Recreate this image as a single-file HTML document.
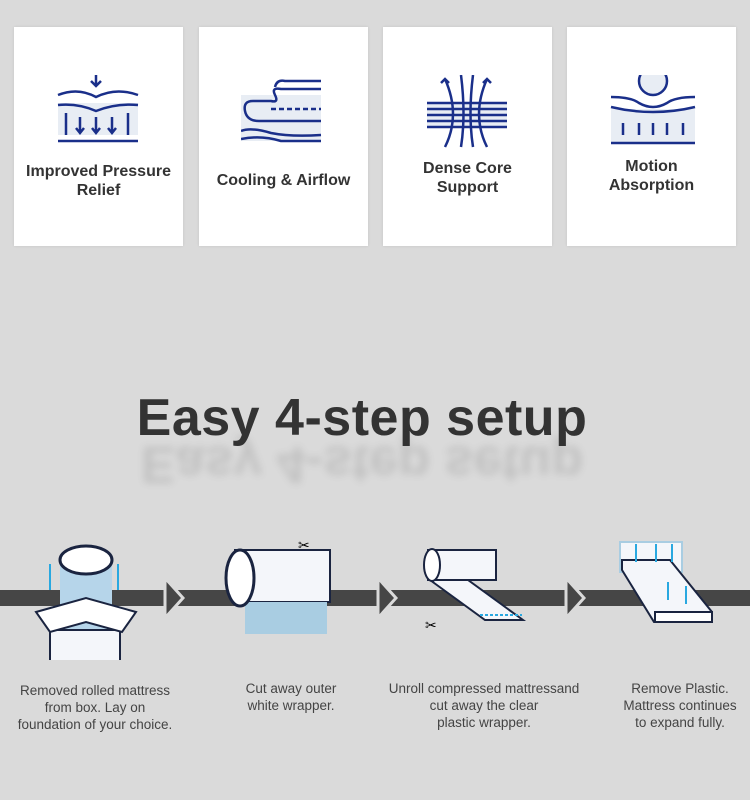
<!DOCTYPE html>
<html><head><style>
body{margin:0;width:750px;height:800px;background:#dadada;font-family:"Liberation Sans",sans-serif;position:relative;overflow:hidden}
.card{position:absolute;top:27px;width:169px;height:219px;background:#fff;box-shadow:0 0 3px rgba(0,0,0,.1)}
.card svg{position:absolute;left:42px;top:48px}
.card .t{position:absolute;left:0;right:0;text-align:center;font-weight:bold;font-size:16px;color:#333;line-height:19px}
.step{position:absolute;top:682px;text-align:center;font-size:13.5px;color:#444;line-height:17px}
</style></head><body>
<div class="card" style="left:14px"><svg width="86" height="70" viewBox="0 0 86 70" fill="none" stroke="#1a2f8a" stroke-width="2.5"><rect x="2" y="28" width="80" height="32" fill="#e8edf4" stroke="none"/><path d="M2 20 Q22 12 40 22 Q60 12 82 20"/><path d="M2 30 Q22 28 40 36 Q60 28 82 30"/><path d="M40 0v10M35 6l5 5 5-5"/><path d="M10 38v22M72 38v22M24 42v16M40 42v16M56 42v16M20 53l4 5 4-5M36 53l4 5 4-5M52 53l4 5 4-5"/><path d="M2 66h80"/></svg><div class="t" style="top:135px">Improved Pressure<br>Relief</div></div>
<div class="card" style="left:199px"><svg width="86" height="70" viewBox="0 0 86 70" fill="none" stroke="#1a2f8a" stroke-width="2.5"><rect x="0" y="20" width="80" height="46" fill="#e8edf4" stroke="none"/><path d="M80 14H40Q30 12 34 20Q38 28 30 26H12Q2 26 4 36Q6 46 18 46H80"/><path d="M30 34H80" stroke-dasharray="5 3"/><path d="M80 6H44Q36 4 34 12"/><path d="M0 56Q10 52 30 58Q50 62 80 60M0 64Q20 60 40 66H80"/></svg><div class="t" style="top:144px">Cooling &amp; Airflow</div></div>
<div class="card" style="left:383px"><svg width="86" height="76" viewBox="0 0 86 76" fill="none" stroke="#1a2f8a" stroke-width="2.5"><rect x="2" y="28" width="80" height="24" fill="#e8edf4" stroke="none"/><path d="M2 28h80M2 34h80M2 46h80M2 52h80M2 40h80" /><path d="M20 4Q36 40 20 72M62 4Q46 40 62 72M36 0Q41 40 36 72M48 0Q43 40 48 72M16 8l4-4 4 4M58 8l4-4 4 4"/></svg><div class="t" style="top:132px">Dense Core<br>Support</div></div>
<div class="card" style="left:567px"><svg width="90" height="80" viewBox="0 0 90 80" fill="none" stroke="#1a2f8a" stroke-width="2.5"><rect x="2" y="34" width="84" height="34" fill="#e8edf4" stroke="none"/><circle cx="44" cy="6" r="14" fill="#e8edf4"/><path d="M2 22Q22 22 30 28Q44 36 58 28Q66 22 86 22"/><path d="M2 32Q44 42 86 32"/><path d="M14 48v12M30 48v12M44 48v12M58 48v12M74 48v12M2 68h84"/></svg><div class="t" style="top:130px">Motion<br>Absorption</div></div>

<div style="position:absolute;left:0;right:0;top:388px;text-align:center;font-size:52px;font-weight:bold;color:#333;letter-spacing:.5px;padding-right:26px">Easy 4-step setup</div>
<div style="position:absolute;left:0;right:0;top:436px;text-align:center;font-size:52px;font-weight:bold;color:#333;opacity:.14;filter:blur(4px);transform:scaleY(-1);padding-right:26px;height:58px;overflow:hidden">Easy 4-step setup</div>

<svg style="position:absolute;left:0;top:520px" width="750" height="140">
<path d="M0 70h750v16H0z" fill="#464646"/>
<g fill="#464646" stroke="#dadada" stroke-width="3"><path d="M165 58l18 20-18 20z"/><path d="M378 58l18 20-18 20z"/><path d="M566 58l18 20-18 20z"/></g>
<rect x="60" y="40" width="52" height="70" fill="#b6d5ea"/><ellipse cx="86" cy="40" rx="26" ry="14" fill="#fff" stroke="#1a2440" stroke-width="3"/><path d="M50 110h70v40H50z" fill="#f4f6fa" stroke="#1a2440" stroke-width="2"/><path d="M36 92l50-14 50 14-14 20-36-10-36 10z" fill="#fff" stroke="#1a2440" stroke-width="2"/><path d="M50 70V44M118 70V44" stroke="#29a8e0" stroke-width="2"/>
<rect x="235" y="30" width="95" height="52" fill="#f4f6fa" stroke="#1a2440" stroke-width="2"/><rect x="245" y="82" width="82" height="32" fill="#a9cde2"/><ellipse cx="240" cy="58" rx="14" ry="28" fill="#fff" stroke="#1a2440" stroke-width="3"/><text x="298" y="30" font-size="14">✂</text>
<path d="M430 60l55 40h38l-55-40z" fill="#f4f6fa" stroke="#1a2440" stroke-width="2"/><rect x="428" y="30" width="68" height="30" fill="#f4f6fa" stroke="#1a2440" stroke-width="2"/><ellipse cx="432" cy="45" rx="8" ry="16" fill="#fff" stroke="#1a2440" stroke-width="2"/><path d="M480 95h42" stroke="#29a8e0" stroke-width="2" stroke-dasharray="3 2"/><text x="425" y="110" font-size="14">✂</text>
<rect x="620" y="22" width="62" height="30" fill="#f4f6fa" stroke="#a9cde2" stroke-width="2"/><path d="M622 40h48l42 52v10h-58l-32-52z" fill="#f4f6fa" stroke="#1a2440" stroke-width="2"/><path d="M655 92h57v10h-57z" fill="#fff" stroke="#1a2440" stroke-width="2"/><path d="M636 42V24M656 42V24M672 42V24M686 84V66M668 80V62" stroke="#29a8e0" stroke-width="2"/>
</svg>

<div class="step" style="left:0;width:190px;top:682px">Removed rolled mattress<br>from box. Lay on<br>foundation of your choice.</div>
<div class="step" style="left:200px;width:182px;top:680px">Cut away outer<br>white wrapper.</div>
<div class="step" style="left:372px;width:224px;top:680px">Unroll compressed mattressand<br>cut away the clear<br>plastic wrapper.</div>
<div class="step" style="left:600px;width:160px;top:680px">Remove Plastic.<br>Mattress continues<br>to expand fully.</div>
</body></html>
